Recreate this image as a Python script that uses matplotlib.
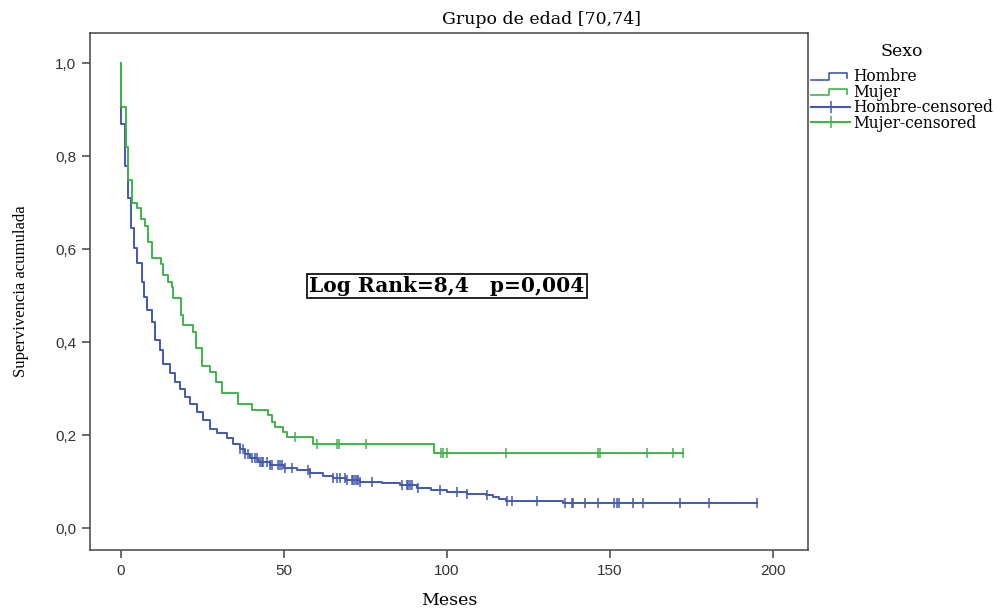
import numpy as np
import matplotlib
matplotlib.use("Agg")
import matplotlib.pyplot as plt
from matplotlib.lines import Line2D
from matplotlib.legend_handler import HandlerBase

# ---------------- data ----------------
title = "Grupo de edad [70,74]"
x_label = "Meses"
y_label = "Supervivencia acumulada"
legend_title = "Sexo"
series_names = ["Hombre", "Mujer", "Hombre-censored", "Mujer-censored"]
annotation = "Log Rank=8,4   p=0,004"

x_ticks = [0, 50, 100, 150, 200]
y_ticks = [0.0, 0.2, 0.4, 0.6, 0.8, 1.0]
y_tick_labels = ["0,0", "0,2", "0,4", "0,6", "0,8", "1,0"]

# Hombre: event times (months) and survival after each drop
hombre_t = [0, 1.2, 2.1, 3.0, 4.0, 5.0, 6.3, 7.0, 8.1, 9.6, 10.4, 12.0, 13.0,
            15.0, 16.6, 18.1, 19.6, 21.2, 23.2, 25.2, 27.3, 29.3, 32.4, 34.5,
            36.5, 38.0, 39.6, 42.0, 45.7, 50.0, 54.0, 58.0, 62.0, 65.1, 69.0,
            73.3, 80.0, 85.6, 90.7, 95.0, 100.0, 106.0, 112.0, 114.0, 116.0,
            118.0, 135.6]
hombre_s = [0.87, 0.78, 0.71, 0.645, 0.603, 0.57, 0.53, 0.497, 0.469, 0.444,
            0.404, 0.383, 0.354, 0.333, 0.315, 0.30, 0.282, 0.268, 0.25, 0.232,
            0.214, 0.204, 0.193, 0.182, 0.171, 0.16, 0.15, 0.143, 0.135, 0.13,
            0.125, 0.118, 0.112, 0.107, 0.103, 0.10, 0.097, 0.092, 0.087, 0.082,
            0.077, 0.074, 0.071, 0.066, 0.062, 0.058, 0.054]
hombre_cens = [36.5, 37.3, 38.0, 39.1, 40.1, 41.1, 41.8, 42.6, 43.1, 43.6, 44.7,
               45.7, 46.2, 48.2, 48.8, 49.3, 50.3, 52.4, 57.5, 58.0, 65.1, 66.2,
               67.2, 68.7, 69.2, 70.8, 71.3, 71.8, 72.3, 72.8, 73.3, 76.9, 86.1,
               87.6, 88.1, 88.6, 89.2, 91.0, 97.9, 103.0, 106.0, 112.2, 118.3,
               119.8, 127.5, 136.2, 138.2, 138.7, 142.3, 146.4, 151.2, 152.0,
               152.8, 157.1, 160.2, 171.3, 180.4, 195.2]

# Mujer
mujer_t = [0, 1.4, 2.2, 3.3, 4.8, 6.1, 7.4, 8.4, 9.5, 12.2, 12.9, 14.4, 15.5,
           16.0, 18.3, 18.9, 22.2, 23.0, 25.0, 27.3, 29.1, 30.9, 36.0, 40.2,
           45.2, 46.2, 47.2, 49.8, 50.8, 59.0, 96.1]
mujer_s = [0.905, 0.82, 0.748, 0.70, 0.688, 0.665, 0.65, 0.616, 0.58, 0.568,
           0.544, 0.53, 0.519, 0.495, 0.458, 0.437, 0.422, 0.387, 0.348, 0.336,
           0.315, 0.29, 0.266, 0.255, 0.243, 0.229, 0.218, 0.207, 0.196, 0.18,
           0.162]
mujer_cens = [53.4, 60.0, 66.2, 66.9, 75.0, 98.0, 98.9, 99.9, 118.1, 146.2,
              146.9, 161.3, 169.3, 172.3]

# ---------------- styles ----------------
c_h = "#4259b0"
c_m = "#3fb44a"
serif = "DejaVu Serif"

fig = plt.figure(figsize=(9.98, 6.08), dpi=100)
ax = fig.add_axes([90/998, 1-550/608, 718/998, 517/608])


def km_path(t, s, t_end):
    xs = [0.0] + list(t) + [t_end]
    ys = [1.0] + list(s) + [s[-1]]
    return np.array(xs), np.array(ys)


def surv_at(t, s, q):
    t = np.asarray(t); s = np.asarray(s)
    idx = np.searchsorted(t, q, side="right") - 1
    return np.where(idx < 0, 1.0, s[np.clip(idx, 0, None)])


hx, hy = km_path(hombre_t, hombre_s, max(hombre_cens))
mx, my = km_path(mujer_t, mujer_s, max(mujer_cens))

ax.step(hx, hy, where="post", color=c_h, lw=1.4, zorder=2)
ax.step(mx, my, where="post", color=c_m, lw=1.4, zorder=3)
ax.plot(hombre_cens, surv_at(hombre_t, hombre_s, hombre_cens), ls="none",
        marker="|", ms=7, mew=1.1, color=c_h, zorder=2)
ax.plot(mujer_cens, surv_at(mujer_t, mujer_s, mujer_cens), ls="none",
        marker="|", ms=7, mew=1.1, color=c_m, zorder=3)

ax.set_xlim(-9.5, 210.7)
ax.set_ylim(-0.047, 1.065)
ax.set_xticks(x_ticks)
ax.set_yticks(y_ticks)
ax.set_yticklabels(y_tick_labels)
for lab in ax.get_xticklabels() + ax.get_yticklabels():
    lab.set_fontfamily("Liberation Sans")
    lab.set_fontsize(11)
    lab.set_color("#333333")
ax.tick_params(direction="out", length=6, width=1.1, color="#444444", pad=4)
for sp in ax.spines.values():
    sp.set_color("#444444")
    sp.set_linewidth(1.1)

ax.set_xlabel(x_label, fontfamily=serif, fontsize=12.5, labelpad=10)
ax.set_ylabel(y_label, fontfamily="Liberation Serif", fontsize=12, labelpad=19)
fig.text(541/998, 1-20/608, title, ha="center", va="center",
         fontfamily=serif, fontsize=12.5)

fig.text(447/998, 1-286/608, annotation, ha="center", va="center",
         fontfamily=serif, fontweight="bold", fontsize=14.5,
         bbox=dict(boxstyle="square,pad=0.1", fc="white", ec="black", lw=1.2))


class StepHandler(HandlerBase):
    def create_artists(self, legend, orig_handle, xdescent, ydescent,
                       width, height, fontsize, trans):
        w, h = width, height
        xs = np.array([0, 0.45, 0.45, 0.92, 0.92]) * w - xdescent
        ys = np.array([0.15, 0.15, 0.75, 0.75, 0.3]) * h - ydescent
        ln = Line2D(xs, ys, color=orig_handle.get_color(), lw=1.2)
        ln.set_transform(trans)
        return [ln]


handles = [Line2D([], [], color=c_h), Line2D([], [], color=c_m),
           Line2D([], [], color=c_h, marker="|", ms=9, mew=1.1),
           Line2D([], [], color=c_m, marker="|", ms=9, mew=1.1)]
leg = fig.legend(handles, series_names, loc="upper left",
                 bbox_to_anchor=(808/998, 1-40/608), frameon=False,
                 title=legend_title, handlelength=2.5, handletextpad=0.2,
                 labelspacing=-0.1, borderaxespad=0, borderpad=0.2,
                 prop={"family": serif, "size": 11.2},
                 handler_map={handles[0]: StepHandler(), handles[1]: StepHandler()})
leg.get_title().set_fontfamily(serif)
leg.get_title().set_fontsize(12.5)
leg._legend_box.sep = 6

fig.savefig("out.png", dpi=100)
